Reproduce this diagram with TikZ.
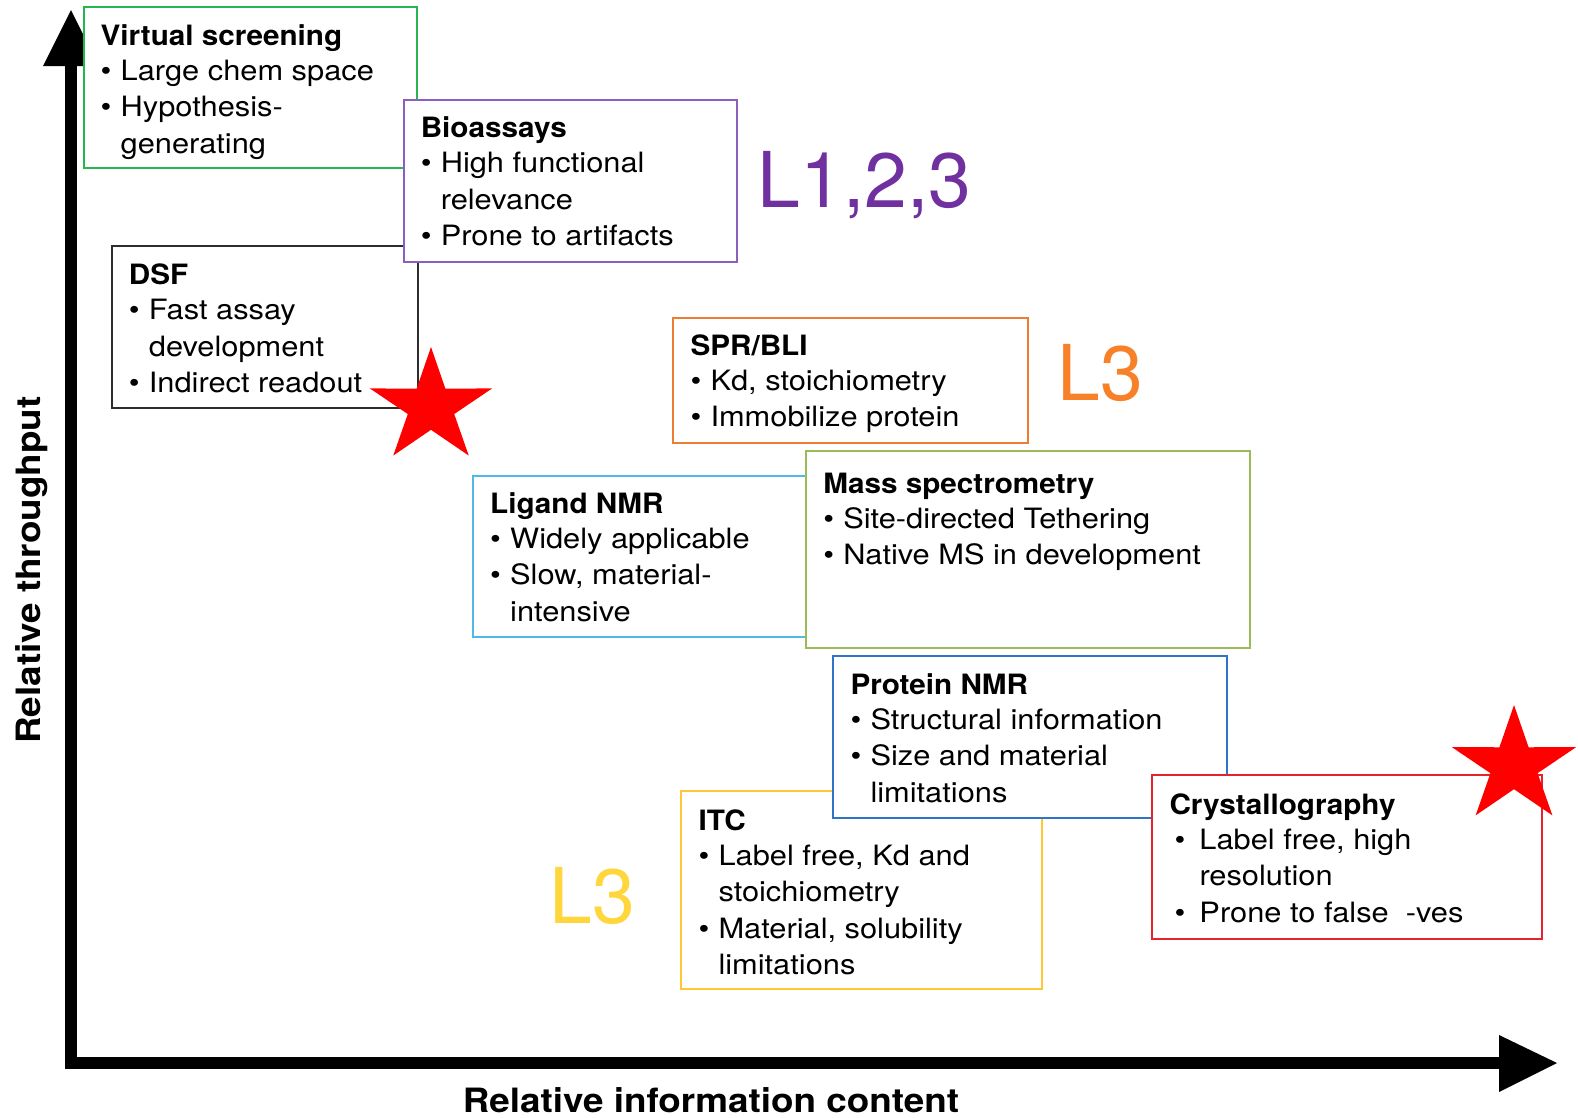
\documentclass[tikz,border=0pt]{standalone}
\usepackage{fontspec}
\setmainfont{TeX Gyre Heros}
\newfontfamily\boxfont{TeX Gyre Heros}[UprightFeatures={FakeStretch=1.1}, BoldFeatures={FakeStretch=1.06}]
\newfontfamily\axfont{TeX Gyre Heros}[FakeStretch=1.1]
\definecolor{cVS}{RGB}{40,180,80}
\definecolor{cBio}{RGB}{140,95,190}
\definecolor{cDSF}{RGB}{45,45,45}
\definecolor{cSPR}{RGB}{237,125,49}
\definecolor{cLig}{RGB}{80,185,235}
\definecolor{cMS}{RGB}{155,187,89}
\definecolor{cPN}{RGB}{46,117,200}
\definecolor{cITC}{RGB}{255,200,50}
\definecolor{cCry}{RGB}{230,35,45}
\definecolor{cPur}{RGB}{112,48,160}
\definecolor{cOra}{RGB}{248,128,40}
\definecolor{cYel}{RGB}{255,215,60}
\newcommand\bi[1]{\makebox[20pt][l]{•}#1}
\newcommand\bc[1]{\hspace*{20pt}#1}
\newcommand\ci[1]{\hspace*{5pt}\makebox[25pt][l]{•}#1}
\newcommand\cc[1]{\hspace*{30pt}#1}
\newcommand\boxtext[2]{\parbox[t]{460pt}{\boxfont\fontsize{28}{36.5}\selectfont\raggedright\textbf{#1}\\[-1.5pt]#2}}
\newcommand\mystar[3]{%
  \begin{scope}[shift={(#1,#2)}, xscale=1.07, yscale=-1]
    \fill[red] (90:#3) -- (126:0.38*#3) -- (162:#3) -- (198:0.38*#3) -- (234:#3) -- (270:0.38*#3) -- (306:#3) -- (342:0.38*#3) -- (18:#3) -- (54:0.38*#3) -- cycle;
  \end{scope}}
\tikzset{
  boxline/.style={line width=2pt, fill=white},
  txt/.style={anchor=base west, inner sep=0pt},
  axlab/.style={inner sep=0pt, font=\axfont\bfseries\fontsize{33.5}{40}\selectfont},
  llab/.style={inner sep=0pt, anchor=base, font=\fontsize{77}{80}\selectfont},
}
\begin{document}
\begin{tikzpicture}[x=1pt, y=-1pt]
\useasboundingbox (0,0) rectangle (1578,1117);
\fill[white] (0,0) rectangle (1578,1117);

% axes
\coordinate (corner) at (71,1069);
\coordinate (ybase) at (71,66);
\coordinate (ytip) at (71,10);
\coordinate (xstart) at (65,1063);
\coordinate (xbase) at (1499,1063);
\coordinate (xtip) at (1557,1063);
\draw[line width=12pt] (corner) -- (ybase);
\fill (43,66) -- (99,66) -- (ytip) -- cycle;
\draw[line width=12pt] (xstart) -- (xbase);
\fill (1499,1035) -- (1499,1092) -- (xtip) -- cycle;

\node[axlab, rotate=90, anchor=base] (ylab) at (40,570) {Relative throughput};
\node[axlab, anchor=base] (xlab) at (711,1112) {Relative information content};

% Virtual screening
\draw[boxline, draw=cVS] (83.5,7) rectangle (416.6,168.1);
\node[txt] (vs) at (100.5,45) {\boxtext{Virtual screening}{\bi{Large chem space}\\\bi{Hypothesis-}\\\bc{generating}}};

% DSF
\draw[boxline, draw=cDSF] (111.7,245.6) rectangle (417.7,407.6);
\node[txt] (dsf) at (128.7,284.6) {\boxtext{DSF}{\bi{Fast assay}\\\bc{development}\\\bi{Indirect readout}}};

% Bioassays
\draw[boxline, draw=cBio] (403.6,99.6) rectangle (736.7,261.7);
\node[txt] (bio) at (420.6,137.6) {\boxtext{Bioassays}{\bi{High functional}\\\bc{relevance}\\\bi{Prone to artifacts}}};

% SPR/BLI
\draw[boxline, draw=cSPR] (673.3,318) rectangle (1027.5,442.8);
\node[txt] (spr) at (690.3,355) {\boxtext{SPR/BLI}{\bi{Kd, stoichiometry}\\\bi{Immobilize protein}}};

% Ligand NMR
\draw[boxline, draw=cLig] (473,476) rectangle (806,637);
\node[txt] (lig) at (490,513) {\boxtext{Ligand NMR}{\bi{Widely applicable}\\\bi{Slow, material-}\\\bc{intensive}}};

% Mass spectrometry
\draw[boxline, draw=cMS] (806.1,450.9) rectangle (1250,648.1);
\node[txt] (ms) at (823.1,493) {\boxtext{Mass spectrometry}{\bi{Site-directed Tethering}\\\bi{Native MS in development}}};

% ITC
\draw[boxline, draw=cITC] (681.3,791) rectangle (1041.6,989.3);
\node[txt] (itc) at (698.3,830) {\boxtext{ITC}{\bi{Label free, Kd and}\\\bc{stoichiometry}\\\bi{Material, solubility}\\\bc{limitations}}};

% Protein NMR
\draw[boxline, draw=cPN] (833.3,656.2) rectangle (1226.8,818.2);
\node[txt] (pnmr) at (850.3,694) {\boxtext{Protein NMR}{\bi{Structural information}\\\bi{Size and material}\\\bc{limitations}}};

% Crystallography
\draw[boxline, draw=cCry] (1152.3,775) rectangle (1542,939);
\node[txt] (cry) at (1169.3,814) {\boxtext{Crystallography}{\ci{Label free, high}\\\cc{resolution}\\\ci{Prone to false\ \ -ves}}};

% level labels
\node[llab, text=cPur] (l123) at (864.5,207.7) {L1,2,3};
\node[llab, text=cOra] (l3a) at (1100.5,400.5) {L3};
\node[llab, text=cYel] (l3b) at (592.3,923.9) {L3};

% stars
\mystar{431}{407}{60}
\mystar{1514}{766}{61}
\end{tikzpicture}
\end{document}
